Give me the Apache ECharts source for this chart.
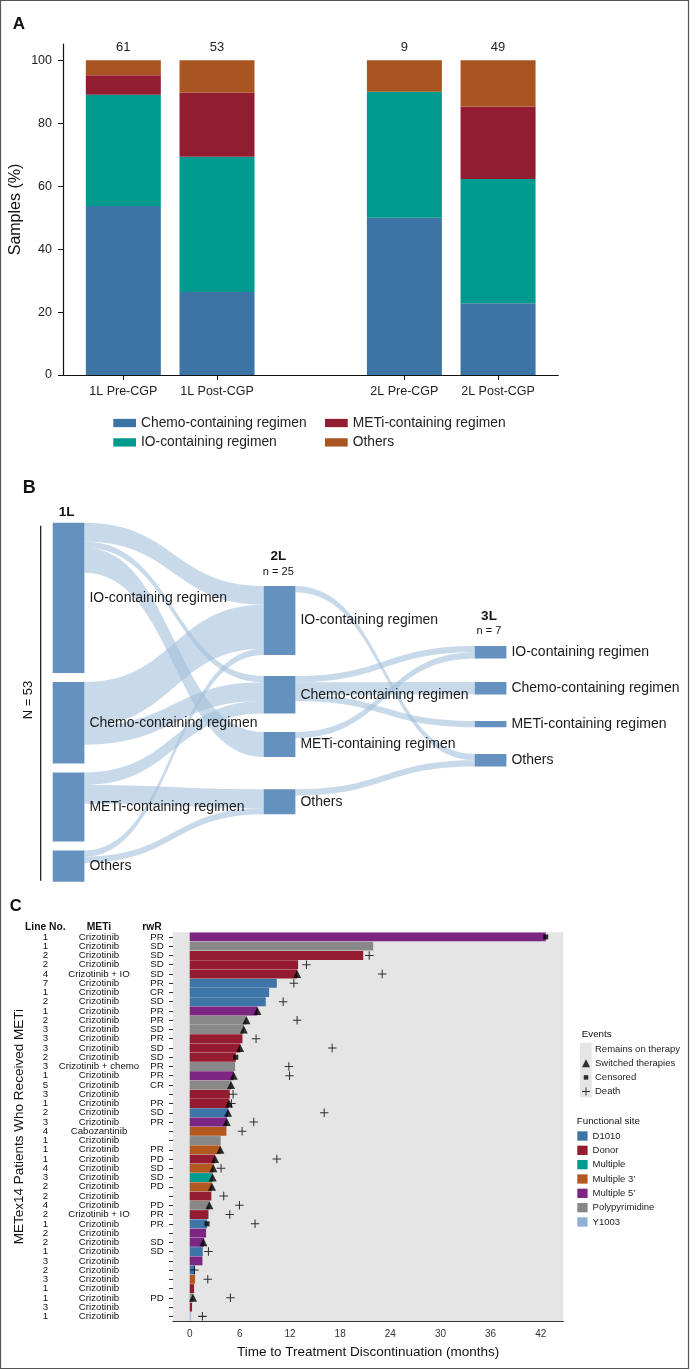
<!DOCTYPE html>
<html><head><meta charset="utf-8">
<script src="https://cdn.jsdelivr.net/npm/echarts@6/dist/echarts.min.js"></script>
<style>html,body{margin:0;padding:0;background:#fff}#c{width:690px;height:1370px}</style>
</head><body><div id="c"></div>
<script>
// ---------- Panel A data ----------
const aCategories = ['1L Pre-CGP', '1L Post-CGP', '', '2L Pre-CGP', '2L Post-CGP'];
const aTotals = [61, 53, null, 9, 49];
const aChemo  = [53.7, 26.4, null, 50.0, 22.8];
const aIO     = [35.4, 43.0, null, 40.0, 39.5];
const aMETi   = [6.2, 20.3, null, 0, 23.0];
const aOthers = [4.7, 10.3, null, 10.0, 14.7];
const aTicks  = [0, 20, 40, 60, 80, 100];

// ---------- Panel B data ----------
const regimens = ['IO-containing regimen', 'Chemo-containing regimen', 'METi-containing regimen', 'Others'];
const lineNames = ['1L', '2L', '3L'];
const lineCounts = [[24, 13, 11, 5], [11, 6, 4, 4], [2, 2, 1, 2]];
const flows1to2 = [[0,0,3],[0,1,1],[0,2,4],[1,0,7],[1,1,3],[2,1,2],[2,3,3],[3,0,1],[3,3,1]];
const flows2to3 = [[0,3,1],[1,0,1],[1,1,2],[1,2,1],[2,0,1],[3,3,1]];

// ---------- Panel C data ----------
const lineNo = [1,1,2,2,4,7,1,2,1,2,3,3,3,2,3,1,5,3,1,2,3,4,1,1,1,4,3,2,2,4,2,1,2,2,1,3,2,3,1,1,3,1];
const meti = ['Crizotinib','Crizotinib','Crizotinib','Crizotinib','Crizotinib + IO','Crizotinib','Crizotinib','Crizotinib',
  'Crizotinib','Crizotinib','Crizotinib','Crizotinib','Crizotinib','Crizotinib','Crizotinib + chemo','Crizotinib','Crizotinib',
  'Crizotinib','Crizotinib','Crizotinib','Crizotinib','Cabozantinib','Crizotinib','Crizotinib','Crizotinib','Crizotinib',
  'Crizotinib','Crizotinib','Crizotinib','Crizotinib','Crizotinib + IO','Crizotinib','Crizotinib','Crizotinib','Crizotinib',
  'Crizotinib','Crizotinib','Crizotinib','Crizotinib','Crizotinib','Crizotinib','Crizotinib'];
const rwr = ['PR','SD','SD','SD','SD','PR','CR','SD','PR','PR','SD','PR','SD','SD','PR','PR','CR','','PR','SD','PR','',
  '','PR','PD','SD','SD','PD','','PD','PR','PR','','SD','SD','','','','','PD','',''];
const site = ["Multiple 5’",'Polypyrimidine','Donor','Donor','Donor','D1010','D1010','D1010',"Multiple 5’",'Polypyrimidine',
  'Polypyrimidine','Donor','Donor','Donor','Polypyrimidine',"Multiple 5’",'Polypyrimidine','Donor','Donor','D1010',"Multiple 5’",
  "Multiple 3’",'Polypyrimidine',"Multiple 3’",'Donor',"Multiple 3’",'Multiple',"Multiple 3’",'Donor','Polypyrimidine','Donor',
  'D1010',"Multiple 5’","Multiple 5’",'D1010',"Multiple 5’",'D1010',"Multiple 3’",'Donor','Polypyrimidine','Donor','Y1003'];
const ttd = [42.6,21.95,20.76,12.97,12.85,10.42,9.5,9.1,8.1,6.79,6.47,6.31,6.03,5.51,5.43,5.27,4.95,4.79,4.71,4.59,4.43,4.39,
  3.71,3.67,3.03,2.83,2.75,2.67,2.59,2.36,2.24,2.08,1.96,1.72,1.56,1.52,0.64,0.64,0.52,0.4,0.28,0.12];
const switchT = [null,null,null,null,12.85,null,null,null,8.1,6.79,6.47,null,6.03,null,null,5.27,4.95,null,4.71,4.59,4.43,null,
  null,3.67,3.03,2.83,2.75,2.67,null,2.36,null,null,null,1.64,null,null,null,null,null,0.4,null,null];
const censorT = [42.6,null,null,null,null,null,null,null,null,null,null,null,null,5.51,null,null,null,null,null,null,null,null,
  null,null,null,null,null,null,null,null,null,2.08,null,null,null,null,null,null,null,null,null,null];
const deathT = [null,null,21.48,13.97,23.03,12.46,null,11.18,null,12.85,null,7.94,17.04,null,11.86,11.94,null,5.19,4.99,16.09,7.66,6.27,
  null,null,10.42,3.75,null,null,4.07,5.95,4.79,7.82,null,null,2.24,null,0.56,2.16,null,4.87,null,1.52];
const siteNames = ['D1010','Donor','Multiple',"Multiple 3’","Multiple 5’",'Polypyrimidine','Y1003'];
const cTicks = [0, 6, 12, 18, 24, 30, 36, 42];

// ---------- styles / layout ----------
const FONT = "'Liberation Sans', Arial, Helvetica, sans-serif";
const aColors = ['#3c74a6', '#009a8f', '#931d30', '#a95522'];
const siteColors = ['#3d75a8', '#951b30', '#009a8e', '#b3581f', '#7d2582', '#888888', '#8fb0d6'];
const nodeTopFrac = { '2L': [0.1763, 0.4270, 0.5830, 0.7426], '3L': [0.3435, 0.4437, 0.5524, 0.6443] };
const plusPath = 'path://M4.4,0H5.6V4.4H10V5.6H5.6V10H4.4V5.6H0V4.4H4.4Z';

const chart = echarts.init(document.getElementById('c'));

// Panel A series (value dimension first so that stacking happens on y)
const aSlots = aCategories.map((c, i) => i).filter(i => aCategories[i] !== '');
const aDefs = [['Chemo-containing regimen', aChemo], ['IO-containing regimen', aIO],
               ['METi-containing regimen', aMETi], ['Others', aOthers]];
const aSeries = aDefs.map((d, k) => ({
  name: d[0], type: 'bar', xAxisIndex: 0, yAxisIndex: 0, stack: 'A', barWidth: 75,
  dimensions: ['share', 'slot'], encode: { x: 'slot', y: 'share' },
  itemStyle: { color: aColors[k] }, emphasis: { disabled: true },
  data: aSlots.map(i => [d[1][i], i]),
  label: k === 3 ? { show: true, position: 'top', distance: 6, fontSize: 13, color: '#222', fontFamily: FONT,
                     formatter: p => String(aTotals[p.data[1]]) } : { show: false }
}));

// Panel B sankey
const sNodes = [];
lineNames.forEach((ln, li) => regimens.forEach((rg, ri) => {
  const node = { name: ln + '|' + rg, value: lineCounts[li][ri], depth: li };
  if (nodeTopFrac[ln]) node.localY = nodeTopFrac[ln][ri];
  sNodes.push(node);
}));
const sLinks = [];
flows1to2.forEach(f => sLinks.push({ source: '1L|' + regimens[f[0]], target: '2L|' + regimens[f[1]], value: f[2] }));
flows2to3.forEach(f => sLinks.push({ source: '2L|' + regimens[f[0]], target: '3L|' + regimens[f[1]], value: f[2] }));

// Panel C series
const rowIds = lineNo.map((_, i) => 'Patient ' + (i + 1));
const idx = rowIds.map((_, i) => i);
const cBars = siteNames.map((s, k) => ({
  name: s, type: 'bar', xAxisIndex: 1, yAxisIndex: 1, stack: 'ttd', barCategoryGap: '4%',
  itemStyle: { color: siteColors[k] }, emphasis: { disabled: true },
  data: ttd.map((v, i) => site[i] === s ? v : '-')
}));
const cEvents = [
  { name: 'Remains on therapy', type: 'scatter', xAxisIndex: 1, yAxisIndex: 1, data: [] },
  { name: 'Switched therapies', type: 'scatter', xAxisIndex: 1, yAxisIndex: 1, symbol: 'triangle', symbolSize: 8, z: 5,
    itemStyle: { color: '#000' }, data: idx.filter(i => switchT[i] != null).map(i => [switchT[i], i]) },
  { name: 'Censored', type: 'scatter', xAxisIndex: 1, yAxisIndex: 1, symbol: 'rect', symbolSize: 5, z: 5,
    itemStyle: { color: '#000' }, data: idx.filter(i => censorT[i] != null).map(i => [censorT[i], i]) },
  { name: 'Death', type: 'scatter', xAxisIndex: 1, yAxisIndex: 1, symbol: plusPath, symbolSize: 8.5, z: 5,
    itemStyle: { color: '#000' }, data: idx.filter(i => deathT[i] != null).map(i => [deathT[i], i]) }
];

function txt(text, x, y, size, opts) {
  opts = opts || {};
  return { type: 'text', x: x, y: y, rotation: opts.rot || 0, z: 100,
    style: { text: text, fill: opts.color || '#111', font: (opts.bold ? 'bold ' : '') + size + 'px ' + FONT,
             textAlign: opts.align || 'center', textVerticalAlign: 'middle', align: opts.align || 'center', verticalAlign: 'middle' } };
}

const option = {
  animation: false,
  textStyle: { fontFamily: FONT },
  grid: [
    { left: 63, right: 131.7, top: 44, bottom: 995, outerBoundsMode: 'none' },
    { left: 173, right: 126.7, top: 932.3, bottom: 49, show: true, backgroundColor: '#e5e5e5', borderWidth: 0, outerBoundsMode: 'none' }
  ],
  xAxis: [
    { type: 'value', gridIndex: 0, min: -0.644, max: 4.643, splitLine: { show: false },
      axisLine: { show: true, onZero: false, lineStyle: { color: '#111', width: 1.2 } },
      axisTick: { show: true, customValues: aSlots, length: 5, lineStyle: { color: '#111' } },
      axisLabel: { customValues: aSlots, formatter: v => aCategories[Math.round(v)], fontSize: 12.5, color: '#222', margin: 10, fontFamily: FONT } },
    { type: 'value', gridIndex: 1, min: -2, max: 44.7, splitLine: { show: false },
      axisLine: { show: true, lineStyle: { color: '#333', width: 1.2 } },
      axisTick: { show: false, customValues: cTicks },
      axisLabel: { customValues: cTicks, fontSize: 10, color: '#333', margin: 8, fontFamily: FONT },
      name: 'Time to Treatment Discontinuation (months)', nameLocation: 'middle', nameGap: 24, nameMoveOverlap: false,
      nameTextStyle: { fontSize: 13.5, color: '#111', fontFamily: FONT } }
  ],
  yAxis: [
    { type: 'value', gridIndex: 0, min: 0, max: 105.2, splitLine: { show: false },
      axisLine: { show: true, onZero: false, lineStyle: { color: '#111', width: 1.2 } },
      axisTick: { show: true, customValues: aTicks, length: 5, lineStyle: { color: '#111' } },
      axisLabel: { customValues: aTicks, fontSize: 12.5, color: '#222', margin: 11, fontFamily: FONT },
      name: 'Samples (%)', nameLocation: 'middle', nameGap: 39, nameMoveOverlap: false,
      nameTextStyle: { fontSize: 16, color: '#111', fontFamily: FONT } },
    { type: 'category', gridIndex: 1, data: rowIds, inverse: true,
      axisLine: { show: false, onZero: false },
      axisTick: { show: true, length: 4, alignWithLabel: true, interval: 0, lineStyle: { color: '#333' } },
      axisLabel: { interval: 0, margin: 3, fontSize: 9.7, color: '#111', fontFamily: FONT,
        formatter: (v, i) => '{n|' + lineNo[i] + '}{m|' + meti[i] + '}{r|' + (rwr[i] || ' ') + '}',
        rich: { n: { width: 17, align: 'center', fontSize: 9.7 }, m: { width: 90, align: 'center', fontSize: 9.7 },
                r: { width: 26, align: 'center', fontSize: 9.7 } } },
      name: 'METex14 Patients Who Received METi', nameLocation: 'middle', nameGap: 147, nameMoveOverlap: false,
      nameTextStyle: { fontSize: 13.5, color: '#111', fontFamily: FONT } }
  ],
  legend: [
    { orient: 'vertical', left: 113.3, top: 415, padding: 0, itemWidth: 22.7, itemHeight: 8.3, itemGap: 3.4, selectedMode: false,
      icon: 'rect', textStyle: { fontSize: 13.8, lineHeight: 16, color: '#222', fontFamily: FONT },
      data: ['Chemo-containing regimen', 'IO-containing regimen'] },
    { orient: 'vertical', left: 325, top: 415, padding: 0, itemWidth: 22.7, itemHeight: 8.3, itemGap: 3.4, selectedMode: false,
      icon: 'rect', textStyle: { fontSize: 13.8, lineHeight: 16, color: '#222', fontFamily: FONT },
      data: ['METi-containing regimen', 'Others'] },
    { orient: 'vertical', left: 582, top: 1043, padding: 0, itemWidth: 8, itemHeight: 8, itemGap: 2.2, selectedMode: false,
      textStyle: { fontSize: 9.5, lineHeight: 12, color: '#222', fontFamily: FONT },
      data: [ { name: 'Remains on therapy', icon: 'rect', itemStyle: { color: '#e5e5e5' } },
              { name: 'Switched therapies', icon: 'triangle' },
              { name: 'Censored', icon: 'path://M0,0M10,10M2.2,2.2H7.8V7.8H2.2Z' },
              { name: 'Death', icon: plusPath } ] },
    { orient: 'vertical', left: 577.3, top: 1130, padding: 0, itemWidth: 10.3, itemHeight: 9.3, itemGap: 2.33, selectedMode: false,
      icon: 'rect', textStyle: { fontSize: 9.5, lineHeight: 12, color: '#222', fontFamily: FONT },
      data: siteNames }
  ],
  graphic: { elements: [
    { type: 'rect', shape: { x: 0.5, y: 0.5, width: 688, height: 1368 }, style: { fill: 'none', stroke: '#555', lineWidth: 1.2 }, z: 100 },
    txt('A', 12.7, 24, 17, { bold: true, align: 'left' }),
    txt('B', 22.7, 488, 18, { bold: true, align: 'left' }),
    txt('C', 9.7, 906.7, 16.5, { bold: true, align: 'left' }),
    txt('1L', 66.7, 512.7, 13.5, { bold: true }),
    txt('2L', 278.3, 556, 13.5, { bold: true }),
    txt('n = 25', 278.3, 571.7, 11),
    txt('3L', 489, 616, 13.5, { bold: true }),
    txt('n = 7', 489, 631.3, 11),
    { type: 'line', shape: { x1: 40.7, y1: 525.7, x2: 40.7, y2: 880.7 }, style: { stroke: '#111', lineWidth: 1.2 }, z: 100 },
    txt('N = 53', 28.3, 700, 13, { rot: Math.PI / 2 }),
    txt('Line No.', 45.3, 927, 10.3, { bold: true }),
    txt('METi', 99, 927, 10.3, { bold: true }),
    txt('rwR', 152, 927, 10.3, { bold: true }),
    { type: 'rect', shape: { x: 580, y: 1042.7, width: 11.7, height: 54.6 }, style: { fill: '#e5e5e5' }, z: 1 },
    txt('Events', 581.7, 1034.3, 9.8, { align: 'left' }),
    txt('Functional site', 576.7, 1121.3, 9.8, { align: 'left' })
  ] },
  series: [].concat(aSeries, [{
    type: 'sankey', left: 52.7, top: 522.7, width: 453.7, height: 359,
    nodeWidth: 31.7, nodeGap: 9, layoutIterations: 0, draggable: false,
    emphasis: { disabled: true },
    itemStyle: { color: '#6491bd', borderWidth: 0 },
    lineStyle: { color: '#a3c0db', opacity: 0.6, curveness: 0.5 },
    label: { position: 'right', distance: 5, fontSize: 14, color: '#1a1a1a', fontFamily: FONT,
             formatter: p => p.name.split('|')[1] },
    data: sNodes, links: sLinks
  }], cBars, cEvents)
};
chart.setOption(option);
</script></body></html>
